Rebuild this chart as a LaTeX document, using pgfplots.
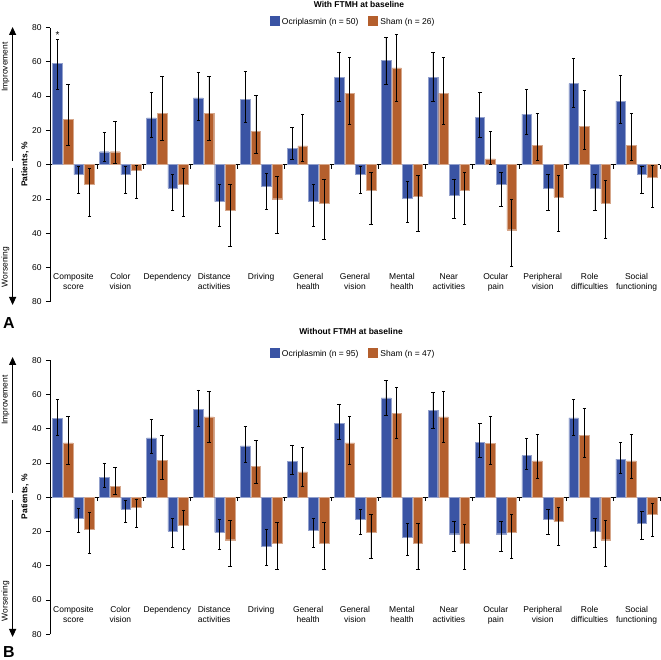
\documentclass[border=0pt]{standalone}
\usepackage{fontspec}
\setmainfont{Liberation Sans}
\usepackage{pgfplots}
\pgfplotsset{compat=1.18}
\usepackage{pgfplotstable}
\usetikzlibrary{arrows.meta}
\definecolor{ocri}{HTML}{3A54A4}
\definecolor{sham}{HTML}{B45F2D}

% With FTMH at baseline: value, lower CI, upper CI (improvement up, worsening down)
\pgfplotstableread{
oU   oUlo oUhi sU   sUlo sUhi oD   oDlo oDhi sD   sDlo sDhi
59.0 44.0 73.0 26.5 11.3 47.0 5.8  1.3  16.5 11.2 2.4  30.0
7.5  2.0  19.0 7.5  1.0  25.0 5.8  1.3  16.5 3.5  0.3  19.5
27.3 16.0 42.0 30.0 14.0 51.4 13.6 5.8  26.7 11.2 2.4  30.0
39.0 26.0 54.0 30.0 14.0 51.4 21.6 11.5 36.0 26.7 11.6 47.5
38.2 24.7 54.3 19.5 6.4  40.3 12.7 5.0  26.3 19.9 6.8  40.3
9.3  3.3  21.6 10.9 2.0  29.6 21.6 11.3 36.0 22.8 8.8  43.4
50.8 36.8 65.4 41.5 23.2 62.3 5.8  1.3  16.5 15.2 4.6  34.8
60.9 46.7 74.5 56.4 36.8 75.9 19.7 9.9  33.5 18.5 6.4  39.1
50.8 36.8 65.4 41.5 23.2 62.3 17.7 8.4  31.5 15.2 4.6  34.8
27.4 15.8 42.0 3.3  0.3  19.5 11.5 4.7  24.1 38.0 20.0 59.2
29.4 17.5 44.0 11.1 2.4  29.8 13.6 5.8  26.7 18.9 6.4  39.0
47.3 33.3 61.9 22.4 8.8  43.4 13.6 5.8  26.7 22.4 9.0  43.3
37.0 24.3 52.0 11.1 2.4  29.8 5.8  1.3  16.5 7.4  0.6  24.9
}\dataA

% Without FTMH at baseline
\pgfplotstableread{
oU   oUlo oUhi sU   sUlo sUhi oD   oDlo oDhi sD   sDlo sDhi
46.1 36.0 57.0 31.7 19.1 47.3 12.2 6.4  20.7 18.8 8.7  32.8
11.7 5.8  20.0 6.2  1.9  17.3 7.0  2.1  14.5 5.8  1.0  17.4
34.6 25.3 45.7 21.4 10.7 36.2 19.8 12.6 29.3 16.1 7.4  30.6
51.2 41.2 62.6 46.9 32.1 61.9 20.5 13.2 30.6 24.8 13.6 40.1
30.0 20.6 41.4 17.9 8.2  32.9 28.5 19.0 39.5 26.7 14.9 42.2
20.8 13.2 30.5 14.8 6.6  29.0 19.4 12.6 29.3 27.1 14.9 42.2
43.2 33.5 53.9 31.7 19.3 47.1 13.0 7.2  21.7 20.5 10.1 35.5
58.0 47.5 68.3 48.8 34.4 64.2 23.6 15.3 33.7 27.1 15.3 42.2
50.6 40.3 61.3 46.9 32.1 61.9 21.3 14.1 31.6 27.1 15.6 42.2
32.1 23.3 43.2 31.5 19.1 47.1 21.3 13.8 31.6 20.5 10.1 35.5
24.3 16.3 34.4 21.2 10.9 36.4 12.8 7.0  21.7 14.1 5.8  27.9
46.3 36.2 57.2 36.2 23.0 51.8 19.8 12.6 29.3 24.8 13.6 40.1
22.2 14.0 31.9 21.2 11.1 36.4 15.3 8.5  24.4 9.9  3.3  22.7
}\dataB

\tikzset{
  catlab/.style={anchor=north, align=center, inner sep=0pt, font=\fontsize{8.5}{10}\selectfont},
}
\pgfplotsset{
  mybar/.style={ybar, bar width=0.205, bar shift=0pt, line width=0.4pt,
    /pgfplots/error bars/y dir=both, /pgfplots/error bars/y explicit,
    /pgfplots/error bars/error bar style={black, line width=0.7pt},
    /pgfplots/error bars/error mark options={black, rotate=90, mark size=1.7pt, line width=0.7pt}},
  panel/.style={scale only axis, width=610bp, height=274.2bp,
    xmin=-0.5, xmax=12.5, ymin=-80, ymax=80,
    axis x line=middle, axis y line=left,
    axis line style={-, line width=0.8pt, black},
    xtick={-0.5,0.5,...,12.5}, xticklabels={,,},
    ytick={-80,-60,...,80}, yticklabels={80,60,40,20,0,20,40,60,80},
    hide obscured y ticks=false,
    tick align=outside, major tick length=4bp,
    tick style={black, line width=0.7pt},
    yticklabel style={font=\fontsize{8.5}{10}\selectfont, black, xshift=-1bp},
    clip=false,
    legend columns=2,
    legend cell align=left,
    legend image code/.code={\fill[##1, draw=none] (0bp,-3.8bp) rectangle (10bp,6.2bp);},
    legend style={draw=none, fill=none, font=\fontsize{8.5}{10}\selectfont,
      /tikz/every even column/.append style={column sep=8bp}},
  },
}

\newcommand{\catlabels}{%
  \node[catlab] at (axis cs:0,-63.5) {Composite\\score};
  \node[catlab] at (axis cs:1,-63.5) {Color\\vision};
  \node[catlab] at (axis cs:2,-63.5) {Dependency};
  \node[catlab] at (axis cs:3,-63.5) {Distance\\activities};
  \node[catlab] at (axis cs:4,-63.5) {Driving};
  \node[catlab] at (axis cs:5,-63.5) {General\\health};
  \node[catlab] at (axis cs:6,-63.5) {General\\vision};
  \node[catlab] at (axis cs:7,-63.5) {Mental\\health};
  \node[catlab] at (axis cs:8,-63.5) {Near\\activities};
  \node[catlab] at (axis cs:9,-63.5) {Ocular\\pain};
  \node[catlab] at (axis cs:10,-63.5) {Peripheral\\vision};
  \node[catlab] at (axis cs:11,-63.5) {Role\\difficulties};
  \node[catlab] at (axis cs:12,-63.5) {Social\\functioning};
}

\newcommand{\panelplots}[1]{%
  \addplot[mybar, fill=ocri, draw=ocri!55!white]
    table[x expr=\coordindex-0.34, y=oU,
      y error plus expr=\thisrow{oUhi}-\thisrow{oU},
      y error minus expr=\thisrow{oU}-\thisrow{oUlo}] {#1};
  \addplot[mybar, fill=sham, draw=sham!55!white]
    table[x expr=\coordindex-0.113, y=sU,
      y error plus expr=\thisrow{sUhi}-\thisrow{sU},
      y error minus expr=\thisrow{sU}-\thisrow{sUlo}] {#1};
  \addplot[mybar, fill=ocri, draw=ocri!55!white, forget plot]
    table[x expr=\coordindex+0.113, y expr=-\thisrow{oD},
      y error plus expr=\thisrow{oD}-\thisrow{oDlo},
      y error minus expr=\thisrow{oDhi}-\thisrow{oD}] {#1};
  \addplot[mybar, fill=sham, draw=sham!55!white, forget plot]
    table[x expr=\coordindex+0.34, y expr=-\thisrow{sD},
      y error plus expr=\thisrow{sD}-\thisrow{sDlo},
      y error minus expr=\thisrow{sDhi}-\thisrow{sD}] {#1};
}

\begin{document}
\begin{tikzpicture}
\path[use as bounding box] (0,0) rectangle (661bp,660bp);

% ---------- Panel A ----------
\begin{axis}[panel, at={(50bp,358.3bp)}, anchor=south west,
  legend style={at={(0.497,1.020)}, anchor=center}]
  \panelplots{\dataA}
  \legend{Ocriplasmin (n = 50), Sham (n = 26)}
  \catlabels
  \node[font=\fontsize{10}{12}\selectfont] at (axis cs:-0.34,75.5) {*};
\end{axis}

% ---------- Panel B ----------
\begin{axis}[panel, at={(50bp,25.7bp)}, anchor=south west,
  legend style={at={(0.497,1.022)}, anchor=center}]
  \panelplots{\dataB}
  \legend{Ocriplasmin (n = 95), Sham (n = 47)}
  \catlabels
\end{axis}

% titles
\node[font=\fontsize{8.5}{10}\selectfont\bfseries] at (359bp,655.5bp) {With FTMH at baseline};
\node[font=\fontsize{8.5}{10}\selectfont\bfseries] at (351bp,328.3bp) {Without FTMH at baseline};

% y labels
\node[rotate=90, font=\fontsize{8.5}{10}\selectfont\bfseries] at (25bp,495.7bp) {Patients, \%};
\node[rotate=90, font=\fontsize{8.5}{10}\selectfont\bfseries] at (25bp,163.3bp) {Patients, \%};

% arrows panel A
\draw[line width=1.1pt, -{Triangle[width=7bp,length=8bp]}] (12.6bp,499bp) -- (12.6bp,633bp);
\draw[line width=1.1pt, -{Triangle[width=7bp,length=8bp]}] (12.6bp,492bp) -- (12.6bp,355bp);
\node[rotate=90, font=\fontsize{8.5}{10}\selectfont] at (5.5bp,593bp) {Improvement};
\node[rotate=90, font=\fontsize{8.5}{10}\selectfont] at (5.5bp,393bp) {Worsening};

% arrows panel B
\draw[line width=1.1pt, -{Triangle[width=7bp,length=8bp]}] (12.6bp,167bp) -- (12.6bp,303bp);
\draw[line width=1.1pt, -{Triangle[width=7bp,length=8bp]}] (12.6bp,160bp) -- (12.6bp,23bp);
\node[rotate=90, font=\fontsize{8.5}{10}\selectfont] at (5.5bp,260bp) {Improvement};
\node[rotate=90, font=\fontsize{8.5}{10}\selectfont] at (5.5bp,59bp) {Worsening};

% panel letters
\node[font=\fontsize{16}{18}\selectfont\bfseries] at (9bp,337bp) {A};
\node[font=\fontsize{16}{18}\selectfont\bfseries] at (9bp,8bp) {B};
\end{tikzpicture}
\end{document}
